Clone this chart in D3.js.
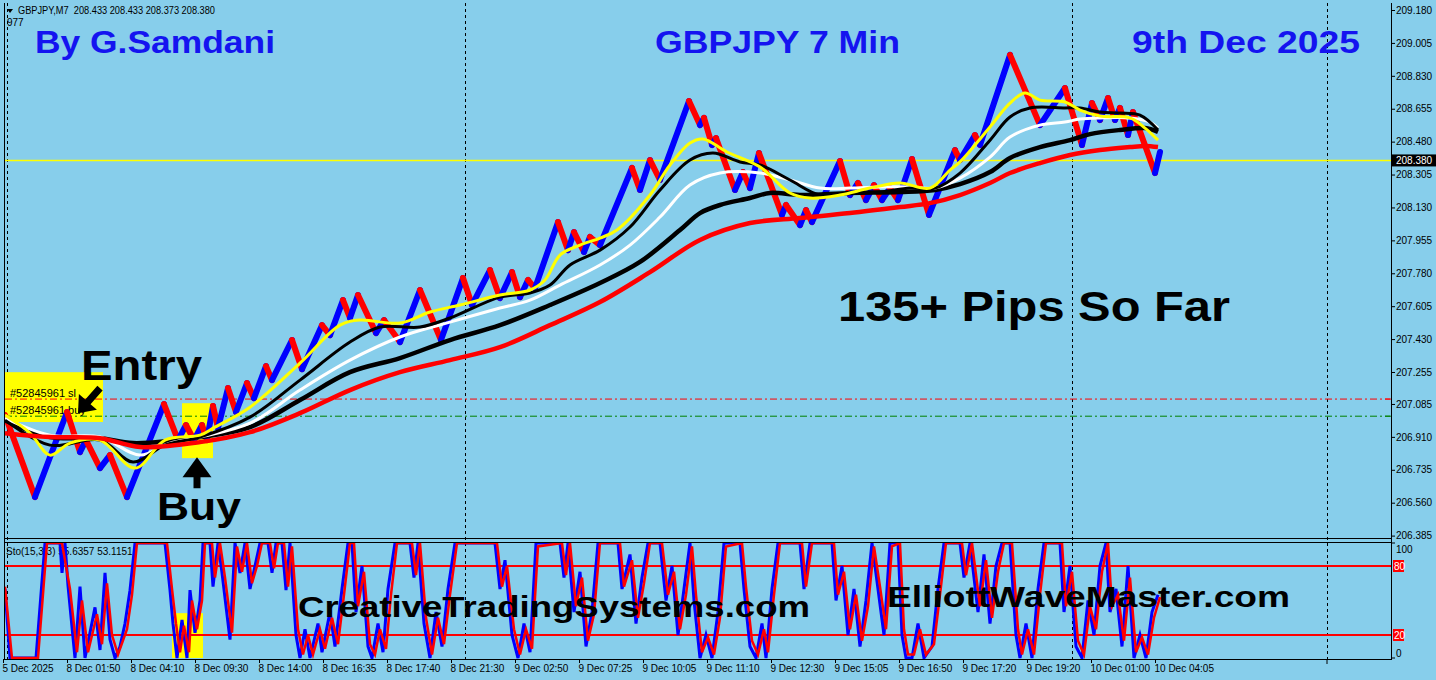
<!DOCTYPE html>
<html><head><meta charset="utf-8">
<script src="https://cdn.jsdelivr.net/npm/d3@7"></script>
<style>html,body{margin:0;padding:0;background:#87ceeb;overflow:hidden}</style>
</head><body><svg id="c" width="1436" height="680"></svg>
<script>
// ---------------- DATA ----------------
const priceTicks = [209.180,209.005,208.830,208.655,208.480,208.305,208.130,207.955,207.780,207.605,207.430,207.255,207.085,206.910,206.735,206.560,206.385];
const priceTickLabels = ["209.180","209.005","208.830","208.655","208.480","208.305","208.130","207.955","207.780","207.605","207.430","207.255","207.085","206.910","206.735","206.560","206.385"];
const timeTickBars = [-2,62,126,190,254,318,382,446,510,574,638,702,766,830,894,958,1022,1086,1150];
const timeLabels = ["5 Dec 2025","8 Dec 01:50","8 Dec 04:10","8 Dec 09:30","8 Dec 14:00","8 Dec 16:35","8 Dec 17:40","8 Dec 21:30","9 Dec 02:50","9 Dec 07:25","9 Dec 10:05","9 Dec 11:10","9 Dec 12:30","9 Dec 15:05","9 Dec 16:50","9 Dec 17:20","9 Dec 19:20","10 Dec 01:00","10 Dec 04:05"];
const separatorBars = [2,460,1067,1322];
const currentPrice = 208.380;
const slPrice = 207.111;
const buyPrice = 207.020;
const stochLevels = [80,20];

// renko price path pivots [bar, price]
const pricePivots = [[0,207.026],[30,206.590],[62,207.042],[75,206.829],[81,206.893],[95,206.744],[105,206.813],[122,206.590],[159,207.084],[173,206.893],[181,206.973],[189,206.893],[197,206.973],[202,206.893],[208,207.074],[213,206.957],[223,207.169],[231,207.042],[242,207.196],[249,207.116],[261,207.286],[267,207.212],[287,207.425],[297,207.270],[317,207.504],[325,207.451],[338,207.637],[345,207.542],[353,207.664],[371,207.462],[379,207.531],[395,207.414],[415,207.691],[436,207.425],[458,207.755],[467,207.611],[485,207.797],[495,207.648],[507,207.786],[515,207.653],[523,207.744],[530,207.701],[553,208.052],[563,207.903],[569,207.999],[579,207.893],[585,207.973],[595,207.930],[627,208.340],[635,208.223],[645,208.382],[655,208.276],[684,208.696],[695,208.568],[699,208.606],[707,208.462],[711,208.499],[730,208.223],[738,208.318],[745,208.233],[754,208.419],[777,208.090],[781,208.143],[795,208.036],[801,208.116],[807,208.052],[835,208.377],[845,208.196],[853,208.260],[861,208.169],[869,208.249],[877,208.169],[885,208.233],[893,208.169],[907,208.387],[924,208.090],[950,208.435],[955,208.382],[970,208.515],[975,208.462],[1005,208.941],[1035,208.568],[1060,208.765],[1077,208.462],[1087,208.685],[1095,208.595],[1103,208.712],[1110,208.595],[1115,208.659],[1123,208.515],[1128,208.637],[1150,208.313],[1155,208.425]];

const maYellow = [[0,207.026],[25,206.930],[45,206.813],[65,206.877],[95,206.893],[130,206.744],[160,206.893],[195,206.919],[210,206.962],[245,207.068],[295,207.302],[335,207.504],[355,207.531],[395,207.515],[425,207.574],[455,207.611],[495,207.664],[525,207.691],[540,207.744],[555,207.877],[575,207.930],[595,207.967],[612,208.010],[645,208.196],[665,208.356],[685,208.473],[698,208.494],[722,208.425],[755,208.345],[785,208.207],[805,208.180],[835,208.196],[865,208.233],[895,208.260],[925,208.233],[945,208.329],[955,208.372],[985,208.558],[1005,208.685],[1020,208.739],[1035,208.701],[1060,208.691],[1075,208.648],[1095,208.616],[1125,208.606],[1140,208.552],[1153,208.488]];
const maBlackThin = [[0,206.999],[45,206.866],[95,206.893],[128,206.776],[160,206.866],[195,206.909],[245,207.015],[295,207.212],[345,207.414],[375,207.494],[415,207.494],[445,207.542],[495,207.653],[525,207.675],[545,207.717],[565,207.824],[595,207.903],[625,208.026],[655,208.223],[685,208.382],[708,208.419],[735,208.372],[755,208.356],[785,208.276],[815,208.196],[845,208.207],[875,208.212],[905,208.233],[930,208.233],[955,208.313],[985,208.488],[1005,208.611],[1025,208.659],[1060,208.659],[1075,208.659],[1095,208.637],[1115,208.632],[1135,208.621],[1153,208.542]];
const maWhite = [[0,207.010],[45,206.919],[95,206.909],[135,206.813],[165,206.877],[195,206.909],[245,206.983],[295,207.159],[345,207.318],[395,207.441],[445,207.520],[495,207.595],[525,207.637],[555,207.717],[595,207.824],[625,207.930],[655,208.079],[685,208.249],[715,208.313],[755,208.313],[785,208.276],[815,208.233],[845,208.233],[875,208.239],[905,208.239],[930,208.233],[955,208.286],[985,208.398],[1005,208.504],[1035,208.568],[1060,208.584],[1075,208.600],[1095,208.606],[1125,208.606],[1145,208.584],[1153,208.552]];
const maBlackThick = [[0,206.999],[45,206.909],[95,206.903],[128,206.877],[195,206.909],[245,206.962],[295,207.106],[345,207.254],[395,207.329],[445,207.425],[495,207.504],[545,207.611],[595,207.728],[635,207.840],[675,208.010],[695,208.100],[715,208.143],[745,208.180],[765,208.207],[795,208.196],[845,208.207],[895,208.212],[930,208.223],[955,208.254],[985,208.318],[1005,208.393],[1035,208.451],[1065,208.488],[1085,208.520],[1115,208.542],[1140,208.552],[1153,208.531]];
const maRed = [[0,206.930],[45,206.909],[95,206.903],[135,206.856],[195,206.882],[245,206.935],[295,207.036],[345,207.159],[395,207.254],[445,207.318],[495,207.387],[545,207.504],[595,207.627],[645,207.786],[695,207.957],[745,208.047],[795,208.074],[845,208.100],[895,208.132],[925,208.153],[955,208.196],[985,208.260],[1005,208.313],[1035,208.366],[1065,208.409],[1095,208.435],[1125,208.451],[1140,208.457],[1153,208.451]];

// stochastic [bar, value]
const stochK = [[0,60],[5,0],[31,0],[40,100],[55,100],[57,74],[60,100],[63,63],[70,0],[75,62],[80,0],[90,44],[95,7],[100,74],[105,16],[110,0],[115,10],[120,30],[125,59],[130,100],[160,100],[165,59],[168,30],[172,0],[177,33],[182,0],[185,59],[190,22],[195,50],[198,100],[205,100],[208,62],[213,100],[217,74],[225,16],[230,100],[235,74],[240,100],[245,60],[250,80],[255,100],[263,100],[267,74],[271,100],[277,100],[281,59],[285,100],[291,20],[295,0],[300,25],[305,0],[313,30],[317,5],[325,40],[330,10],[337,60],[343,100],[347,100],[351,40],[357,80],[363,10],[367,0],[373,30],[378,5],[383,60],[390,100],[405,100],[409,70],[413,100],[419,30],[425,0],[431,40],[437,10],[443,60],[450,100],[490,100],[495,60],[500,85],[507,20],[513,0],[519,30],[525,5],[531,100],[555,100],[559,70],[563,100],[569,40],[575,75],[581,10],[587,40],[593,100],[613,100],[617,60],[625,90],[631,30],[637,70],[643,100],[655,100],[661,50],[667,80],[673,20],[679,60],[685,100],[689,50],[695,0],[701,20],[707,0],[713,40],[719,100],[735,100],[739,60],[745,10],[751,0],[757,30],[761,0],[767,60],[773,100],[795,100],[799,60],[805,100],[827,100],[831,50],[837,80],[843,20],[849,60],[855,10],[861,50],[867,100],[873,60],[879,20],[885,100],[893,100],[897,20],[901,0],[907,0],[913,30],[919,0],[927,10],[933,60],[939,100],[955,100],[959,70],[965,100],[973,40],[979,90],[985,30],[991,80],[997,100],[1005,100],[1011,20],[1015,0],[1021,30],[1027,0],[1033,60],[1039,100],[1055,100],[1059,40],[1065,80],[1071,10],[1077,0],[1083,50],[1089,20],[1095,80],[1101,100],[1105,40],[1111,60],[1117,10],[1123,80],[1129,0],[1135,20],[1141,0],[1147,40],[1153,55]];
const stochD = [[0,62],[7,0],[33,0],[42,100],[57,100],[61,80],[65,60],[72,5],[77,50],[83,5],[92,38],[97,12],[102,65],[107,20],[113,3],[122,25],[127,55],[132,100],[162,100],[167,60],[171,30],[175,5],[179,28],[184,5],[187,50],[192,25],[197,50],[200,100],[207,100],[210,70],[215,100],[220,70],[227,22],[232,97],[237,75],[242,100],[247,65],[252,80],[257,100],[265,100],[269,78],[273,100],[279,100],[283,62],[287,97],[293,25],[298,3],[303,20],[308,3],[315,25],[320,8],[327,35],[333,12],[339,55],[345,100],[349,100],[353,45],[359,75],[365,12],[370,3],[375,25],[381,8],[386,55],[392,100],[407,100],[411,72],[415,100],[421,35],[427,3],[433,35],[439,12],[445,55],[452,100],[492,100],[497,62],[502,80],[509,25],[515,3],[521,25],[527,8],[533,97],[557,100],[561,72],[565,100],[571,45],[577,70],[583,15],[589,38],[595,100],[615,100],[619,62],[627,85],[633,35],[639,65],[645,100],[657,100],[663,55],[669,75],[675,25],[681,55],[687,97],[691,55],[697,5],[703,18],[709,3],[715,35],[721,97],[737,100],[741,62],[747,15],[753,3],[759,25],[763,5],[769,55],[775,100],[797,100],[801,62],[807,100],[829,100],[833,55],[839,75],[845,25],[851,55],[857,15],[863,45],[869,97],[875,62],[881,25],[887,97],[895,100],[899,25],[903,3],[909,3],[915,25],[921,3],[929,12],[935,55],[941,100],[957,100],[961,72],[967,100],[975,45],[981,85],[987,35],[993,75],[999,100],[1007,100],[1013,25],[1017,3],[1023,25],[1029,3],[1035,55],[1041,100],[1057,100],[1061,45],[1067,75],[1073,15],[1079,3],[1085,45],[1091,25],[1097,75],[1103,100],[1107,45],[1113,55],[1119,15],[1125,70],[1131,5],[1137,18],[1143,3],[1149,35],[1155,53]];

// annotation anchors (bar / price)
const entryBox = {b0:0, b1:98, p0:207.254, p1:206.989};
const buyBox = {b0:177, b1:208, p0:207.089, p1:206.797};
const stochBox = {b0:167, b1:198, v0:39, v1:0};

// ---------------- DRAW ----------------
const svg = d3.select('#c');
const W = 1436, H = 680;
const sky = '#87ceeb';
svg.append('rect').attr('width', W).attr('height', H).attr('fill', sky);

const x = d3.scaleLinear().domain([0, 1386]).range([5, 1391]);
const y = d3.scaleLinear().domain([206.385, 209.180]).range([535.6, 10]);
const ys = d3.scaleLinear().domain([0, 100]).range([658, 543]);

const defs = svg.append('defs');
defs.append('clipPath').attr('id', 'mc').append('rect').attr('x', 5).attr('y', 3).attr('width', 1386).attr('height', 536);
defs.append('clipPath').attr('id', 'sc').append('rect').attr('x', 5).attr('y', 543).attr('width', 1386).attr('height', 116);

const F = "'Liberation Sans', Arial, sans-serif";

// frames
const frame = svg.append('g').attr('stroke', '#000').attr('stroke-width', 1).attr('shape-rendering', 'crispEdges');
frame.append('line').attr('x1', 4.5).attr('x2', 4.5).attr('y1', 3).attr('y2', 659);
frame.append('line').attr('x1', 4).attr('x2', 1391).attr('y1', 538.5).attr('y2', 538.5);
frame.append('line').attr('x1', 4).attr('x2', 1391).attr('y1', 542.5).attr('y2', 542.5);
frame.append('line').attr('x1', 4).attr('x2', 1391).attr('y1', 659.5).attr('y2', 659.5);
frame.append('line').attr('x1', 1391.5).attr('x2', 1391.5).attr('y1', 3).attr('y2', 660);

// separators
svg.append('g').selectAll('line').data(separatorBars).join('line')
  .attr('x1', d => Math.round(x(d)) + 0.5).attr('x2', d => Math.round(x(d)) + 0.5)
  .attr('y1', 3).attr('y2', 659).attr('stroke', '#000').attr('stroke-width', 1)
  .attr('stroke-dasharray', '3,3');

const main = svg.append('g').attr('clip-path', 'url(#mc)');

// boxes
main.append('rect').attr('x', x(entryBox.b0)).attr('y', y(entryBox.p0))
  .attr('width', x(entryBox.b1) - x(entryBox.b0)).attr('height', y(entryBox.p1) - y(entryBox.p0)).attr('fill', '#ffff00');
main.append('rect').attr('x', x(buyBox.b0)).attr('y', y(buyBox.p0))
  .attr('width', x(buyBox.b1) - x(buyBox.b0)).attr('height', y(buyBox.p1) - y(buyBox.p0)).attr('fill', '#ffff00');

// order lines
main.append('line').attr('x1', 5).attr('x2', 1391).attr('y1', y(slPrice)).attr('y2', y(slPrice))
  .attr('stroke', '#ff0000').attr('stroke-width', 1).attr('stroke-dasharray', '7,3,2,3');
main.append('line').attr('x1', 5).attr('x2', 1391).attr('y1', y(buyPrice)).attr('y2', y(buyPrice))
  .attr('stroke', '#008000').attr('stroke-width', 1).attr('stroke-dasharray', '7,3,2,3');
main.append('text').attr('x', 10).attr('y', y(slPrice) - 2).attr('font-family', F).attr('font-size', 11).text('#52845961 sl');
main.append('text').attr('x', 10).attr('y', y(buyPrice) - 2).attr('font-family', F).attr('font-size', 11).text('#52845961 buy');

// current price
main.append('line').attr('x1', 5).attr('x2', 1391).attr('y1', y(currentPrice)).attr('y2', y(currentPrice))
  .attr('stroke', '#ffff00').attr('stroke-width', 1.5);

// renko zigzag
main.append('g').selectAll('line').data(d3.pairs(pricePivots)).join('line')
  .attr('x1', d => x(d[0][0])).attr('y1', d => y(d[0][1]))
  .attr('x2', d => x(d[1][0])).attr('y2', d => y(d[1][1]))
  .attr('stroke', d => d[1][1] > d[0][1] ? '#0000ff' : '#ff0000')
  .attr('stroke-width', 6).attr('stroke-linecap', 'round');

// moving averages
const maLine = d3.line().x(d => x(d[0])).y(d => y(d[1])).curve(d3.curveCatmullRom.alpha(0.5));
[[maBlackThick, '#000', 4.5], [maWhite, '#fff', 3], [maBlackThin, '#000', 3], [maYellow, '#ffff00', 3], [maRed, '#ff0000', 4.5]]
  .forEach(([data, col, w]) => {
    main.append('path').datum(data).attr('d', maLine).attr('fill', 'none')
      .attr('stroke', col).attr('stroke-width', w).attr('stroke-linejoin', 'round');
  });

// arrows
function arrow(x1, y1, x2, y2, sw, hw, hl) {
  const dx = x2 - x1, dy = y2 - y1, L = Math.hypot(dx, dy);
  const ux = dx / L, uy = dy / L, nx = -uy, ny = ux;
  const bx = x2 - ux * hl, by = y2 - uy * hl;
  const p = [
    [x1 + nx * sw / 2, y1 + ny * sw / 2], [bx + nx * sw / 2, by + ny * sw / 2], [bx + nx * hw / 2, by + ny * hw / 2],
    [x2, y2], [bx - nx * hw / 2, by - ny * hw / 2], [bx - nx * sw / 2, by - ny * sw / 2], [x1 - nx * sw / 2, y1 - ny * sw / 2]];
  return 'M' + p.map(q => q.join(',')).join('L') + 'Z';
}
svg.append('path').attr('d', arrow(x(95), y(207.169), x(73), y(207.036), 7, 24, 15)).attr('fill', '#000');
svg.append('path').attr('d', arrow(x(192), y(206.637), x(192), y(206.802), 7, 29, 20)).attr('fill', '#000');

// price axis
const pa = svg.append('g').attr('transform', 'translate(1391,0)')
  .call(d3.axisRight(y).tickValues(priceTicks).tickFormat((d, i) => priceTickLabels[i]).tickSize(4).tickPadding(1));
pa.select('.domain').remove();
pa.selectAll('text').attr('font-family', F).attr('font-size', 10).attr('fill', '#000');
pa.selectAll('line').attr('stroke', '#000');

// order markers on axis
svg.append('line').attr('x1', 1385).attr('x2', 1390).attr('y1', y(slPrice)).attr('y2', y(slPrice)).attr('stroke', '#ff0000');
svg.append('line').attr('x1', 1385).attr('x2', 1390).attr('y1', y(buyPrice)).attr('y2', y(buyPrice)).attr('stroke', '#008000');

// current price label
svg.append('rect').attr('x', 1392).attr('y', y(currentPrice) - 6).attr('width', 44).attr('height', 12).attr('fill', '#000');
svg.append('text').attr('x', 1396).attr('y', y(currentPrice) + 4).attr('font-family', F).attr('font-size', 10).attr('fill', '#fff').text('208.380');

// time axis
const ta = svg.append('g').attr('transform', 'translate(0,659)')
  .call(d3.axisBottom(x).tickValues(timeTickBars).tickFormat((d, i) => timeLabels[i]).tickSize(4).tickPadding(2));
ta.select('.domain').remove();
ta.selectAll('text').attr('font-family', F).attr('font-size', 10).attr('fill', '#000').attr('text-anchor', 'start').attr('dx', -1);
ta.selectAll('line').attr('stroke', '#000');
svg.append('line').attr('x1', x(1322)).attr('x2', x(1322)).attr('y1', 659).attr('y2', 664).attr('stroke', '#000');

// stochastic panel
const st = svg.append('g').attr('clip-path', 'url(#sc)');
st.append('rect').attr('x', x(stochBox.b0)).attr('y', ys(stochBox.v0))
  .attr('width', x(stochBox.b1) - x(stochBox.b0)).attr('height', ys(stochBox.v1) - ys(stochBox.v0)).attr('fill', '#ffff00');
st.append('text').attr('x', 6).attr('y', 555).attr('font-family', F).attr('font-size', 10).text('Sto(15,3,3) 55.6357 53.1151');
st.selectAll('.lvl').data(stochLevels).join('line').attr('class', 'lvl')
  .attr('x1', 5).attr('x2', 1391).attr('y1', d => ys(d)).attr('y2', d => ys(d))
  .attr('stroke', '#ff0000').attr('stroke-width', 2);
const sl = d3.line().x(d => x(d[0])).y(d => ys(d[1]));
st.append('path').datum(stochK).attr('d', sl).attr('fill', 'none').attr('stroke', '#0000ff').attr('stroke-width', 3);
st.append('path').datum(stochD).attr('d', sl).attr('fill', 'none').attr('stroke', '#ff0000').attr('stroke-width', 2.5);

// stoch axis labels
svg.append('text').attr('x', 1396).attr('y', ys(100) + 10).attr('font-family', F).attr('font-size', 10).text('100');
svg.append('text').attr('x', 1396).attr('y', ys(0) - 1).attr('font-family', F).attr('font-size', 10).text('0');
stochLevels.forEach(v => {
  svg.append('rect').attr('x', 1393).attr('y', ys(v) - 6).attr('width', 11).attr('height', 12).attr('fill', '#ff0000');
  svg.append('text').attr('x', 1394).attr('y', ys(v) + 4).attr('font-family', F).attr('font-size', 10).attr('fill', '#fff').text(String(v));
});
svg.append('line').attr('x1', 1391).attr('x2', 1395).attr('y1', ys(100)).attr('y2', ys(100)).attr('stroke', '#000');
svg.append('line').attr('x1', 1391).attr('x2', 1395).attr('y1', ys(0)).attr('y2', ys(0)).attr('stroke', '#000');

// header
svg.append('path').attr('d', 'M7,9L13,9L10,13Z').attr('fill', '#000');
svg.append('text').attr('x', 18).attr('y', 14).attr('font-family', F).attr('font-size', 10)
  .attr('textLength', 197).attr('lengthAdjust', 'spacingAndGlyphs').attr('xml:space', 'preserve')
  .text('GBPJPY,M7  208.433 208.433 208.373 208.380');
svg.append('text').attr('x', 7).attr('y', 26).attr('font-family', F).attr('font-size', 10).text('977');

// big texts
function bigText(t, x0, yb, size, w, col) {
  svg.append('text').attr('x', x0).attr('y', yb).attr('font-family', F).attr('font-weight', 'bold')
    .attr('font-size', size).attr('fill', col).attr('textLength', w).attr('lengthAdjust', 'spacingAndGlyphs').text(t);
}
const blue = '#1414f0';
bigText('By G.Samdani', 35, 53, 32, 240, blue);
bigText('GBPJPY 7 Min', 655, 53, 32, 245, blue);
bigText('9th Dec 2025', 1132, 53, 32, 228, blue);
bigText('Entry', 81, 380, 42, 121, '#000');
bigText('Buy', 157, 520, 38, 84, '#000');
bigText('135+ Pips So Far', 838, 321, 42, 392, '#000');
bigText('CreativeTradingSystems.com', 298, 617, 30, 512, '#000');
bigText('ElliottWaveMaster.com', 887, 607, 30, 403, '#000');
</script></body></html>
